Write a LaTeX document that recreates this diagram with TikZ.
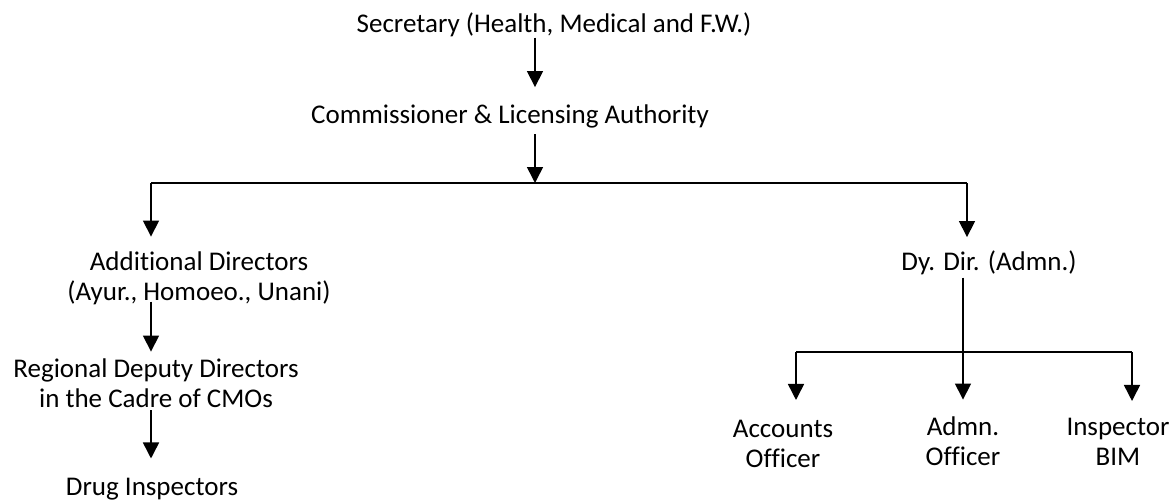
\documentclass[tikz,border=0pt]{standalone}
\usepackage{fontspec}
\setmainfont{Carlito}[Ligatures=NoCommon]
\usetikzlibrary{arrows.meta}
\begin{document}
\begin{tikzpicture}[x=1pt,y=-1pt,
    post/.style={font=\fontsize{27}{29.5}\selectfont, align=center, inner sep=0pt, anchor=base},
    link/.style={line width=1.6pt},
    arr/.style={link, -{Triangle[width=16pt,length=16pt]}}]
  \useasboundingbox (0,0) rectangle (1175,501);
  % posts (anchored on the baseline of the last line)
  \node[post] (sec)  at (554,32)  {Secretary (Health, Medical and F.W.)};
  \node[post] (com)  at (510,123) {Commissioner \& Licensing Authority};
  \node[post] (add)  at (199,300) {Additional Directors\\(Ayur., Homoeo., Unani)};
  \node[post] (reg)  at (156,407) {Regional Deputy Directors\\in the Cadre of CMOs};
  \node[post] (drug) at (152,495) {Drug Inspectors};
  \node[post] (dy)   at (989,270) {Dy. Dir. (Admn.)};
  \node[post] (acc)  at (783,467) {Accounts\\Officer};
  \node[post] (adm)  at (963,465) {Admn.\\Officer};
  \node[post] (insp) at (1118,465){Inspector\\BIM};
  % junctions
  \coordinate (split) at (535,183);
  \coordinate (lft)   at (151,183);
  \coordinate (rgt)   at (967,183);
  \coordinate (mid)   at (963,352);
  \coordinate (barl)  at (796,352);
  \coordinate (barr)  at (1132,352);
  % connectors
  \draw[arr, shorten <=1pt, shorten >=17pt] (sec.south -| split) -- (com.north -| split);
  \draw[arr, shorten <=6.5pt] (com.south -| split) -- (split);
  \draw[link] (lft) -- (rgt);
  \draw[arr, shorten >=15pt] (lft) -- (add.north -| lft);
  \draw[arr, shorten >=13pt] (rgt) -- (dy.north -| rgt);
  \draw[arr, shorten <=-3pt, shorten >=7pt] (add.south -| lft) -- (reg.north -| lft);
  \draw[arr, shorten <=3pt, shorten >=19pt] (reg.south -| lft) -- (drug.north -| lft);
  \draw[arr, shorten <=3pt, shorten >=17pt] (dy.south -| mid) -- (adm.north -| mid);
  \draw[link] (barl) -- (barr);
  \draw[arr, shorten >=20pt] (barl) -- (acc.north -| barl);
  \draw[arr, shorten >=17pt] (barr) -- (insp.north -| barr);
\end{tikzpicture}
\end{document}
